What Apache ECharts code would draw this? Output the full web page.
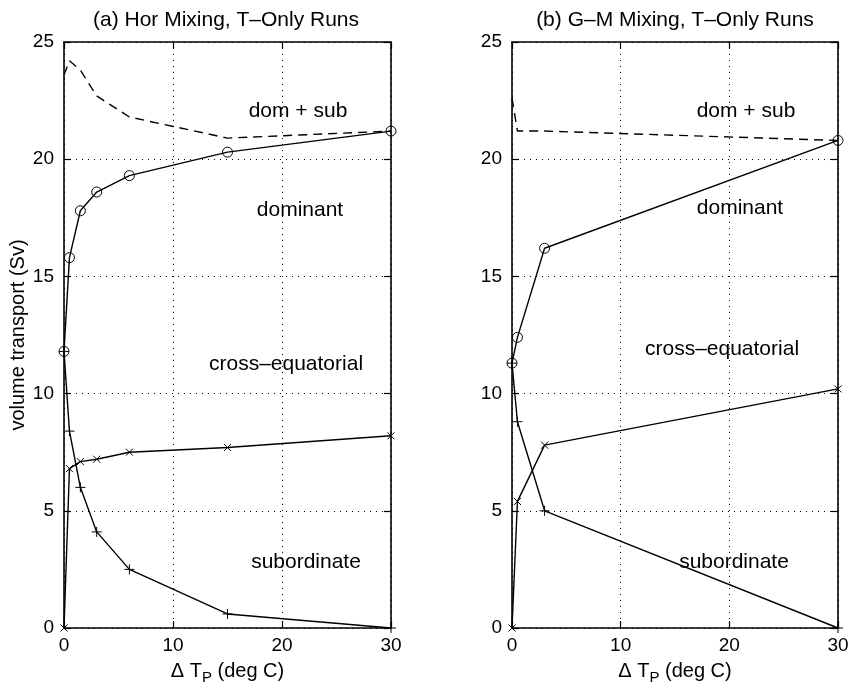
<!DOCTYPE html>
<html>
<head>
<meta charset="utf-8">
<script src="https://cdn.jsdelivr.net/npm/echarts@6/dist/echarts.min.js"></script>
<style>
html,body{margin:0;padding:0;background:#fff;}
#chart{width:852px;height:690px;}
</style>
</head>
<body>
<div id="chart"></div>
<script>
// Panel (a): Hor Mixing
const xA = [0, 0.5, 1.5, 3, 6, 15, 30];
const domA = [11.8, 15.8, 17.8, 18.6, 19.3, 20.3, 21.2];
const subA = [11.8, 8.4, 6.0, 4.1, 2.5, 0.6, 0.0];
const crossA = [0.0, 6.8, 7.1, 7.2, 7.5, 7.7, 8.2];
const sumA = [23.6, 24.2, 23.8, 22.7, 21.8, 20.9, 21.2];
// Panel (b): G-M Mixing
const xB = [0, 0.5, 3, 30];
const domB = [11.3, 12.4, 16.2, 20.8];
const subB = [11.3, 8.8, 5.0, 0.0];
const crossB = [0.0, 5.4, 7.8, 10.2];
const sumB = [22.6, 21.2, 21.2, 20.8];

const xTicks = [0, 10, 20, 30];
const yTicks = [0, 5, 10, 15, 20, 25];
const titles = ['(a) Hor Mixing, T\u2013Only Runs', '(b) G\u2013M Mixing, T\u2013Only Runs'];
const curveLabels = ['dom + sub', 'dominant', 'cross\u2013equatorial', 'subordinate'];

const FONT = 'Liberation Sans, Arial, Helvetica, sans-serif';
const pairs = (xs, ys) => xs.map((x, i) => [x, ys[i]]);

const chart = echarts.init(document.getElementById('chart'));

const grids = [
  {left: 64, top: 42, width: 327, height: 592},
  {left: 512, top: 42, width: 326, height: 592}
];

function xAxisPair(gi) {
  const base = {
    type: 'value', gridIndex: gi, min: xTicks[0], max: xTicks[xTicks.length - 1], interval: 10,
    axisLine: {show: true, onZero: false, lineStyle: {color: '#000', width: 1.6}},
    axisTick: {show: true, inside: true, length: 7, lineStyle: {color: '#000', width: 1.2}},
  };
  return [
    Object.assign({}, base, {
      position: 'bottom',
      axisLabel: {show: true, color: '#000', fontSize: 19, fontFamily: FONT, margin: 8},
      splitLine: {show: true, lineStyle: {color: '#000', type: [1, 5], width: 1}},
      name: '{d|\u0394 T}{s|P}{d| (deg C)}',
      nameLocation: 'middle', nameGap: 30,
      nameTextStyle: {
        rich: {
          d: {fontSize: 20, fontFamily: FONT, color: '#000'},
          s: {fontSize: 15, fontFamily: FONT, color: '#000', verticalAlign: 'bottom', padding: [12, 0, 0, 0]}
        }
      }
    }),
    Object.assign({}, base, {
      position: 'top',
      axisLabel: {show: false},
      splitLine: {show: false}
    })
  ];
}

function yAxisPair(gi, withName) {
  const base = {
    type: 'value', gridIndex: gi, min: yTicks[0], max: yTicks[yTicks.length - 1], interval: 5,
    axisLine: {show: true, onZero: false, lineStyle: {color: '#000', width: 1.6}},
    axisTick: {show: true, inside: true, length: 7, lineStyle: {color: '#000', width: 1.2}},
  };
  const left = Object.assign({}, base, {
    position: 'left',
    axisLabel: {show: true, color: '#000', fontSize: 19, fontFamily: FONT, margin: 10},
    splitLine: {show: true, lineStyle: {color: '#000', type: [1, 5], width: 1}}
  });
  if (withName) {
    Object.assign(left, {
      name: 'volume transport (Sv)', nameLocation: 'middle', nameGap: 25,
      nameTextStyle: {fontSize: 20, fontFamily: FONT, color: '#000'}
    });
  }
  return [left, Object.assign({}, base, {position: 'right', axisLabel: {show: false}, splitLine: {show: false}})];
}

const plusPath = 'path://M0,5L10,5M5,0L5,10';
const crossPath = 'path://M0,0L10,10M10,0L0,10';

function panelSeries(xi, yi, xs, dom, sub, cross, sum) {
  const common = {type: 'line', xAxisIndex: xi, yAxisIndex: yi, animation: false, z: 5,
    lineStyle: {color: '#000', width: 1.4}};
  return [
    Object.assign({}, common, {
      name: 'dom+sub', data: pairs(xs, sum), showSymbol: false, symbol: 'none',
      lineStyle: {color: '#000', width: 1.4, type: [9, 6]}
    }),
    Object.assign({}, common, {
      name: 'dominant', data: pairs(xs, dom), symbol: 'circle', symbolSize: 10,
      itemStyle: {color: 'none', borderColor: '#000', borderWidth: 1}
    }),
    Object.assign({}, common, {
      name: 'subordinate', data: pairs(xs, sub), symbol: plusPath, symbolSize: 10,
      itemStyle: {color: 'none', borderColor: '#000', borderWidth: 1}
    }),
    Object.assign({}, common, {
      name: 'cross', data: pairs(xs, cross), symbol: crossPath, symbolSize: 7,
      itemStyle: {color: 'none', borderColor: '#000', borderWidth: 1}
    })
  ];
}

const textStyle = {fontSize: 21, fontFamily: FONT, fill: '#000'};
function label(text, cx, cy) {
  return {type: 'text', x: cx, y: cy, style: Object.assign({text: text, textAlign: 'center', textVerticalAlign: 'middle'}, textStyle)};
}

const option = {
  backgroundColor: '#fff',
  animation: false,
  grid: grids,
  xAxis: [...xAxisPair(0), ...xAxisPair(1)],
  yAxis: [...yAxisPair(0, true), ...yAxisPair(1, false)],
  series: [
    ...panelSeries(0, 0, xA, domA, subA, crossA, sumA),
    ...panelSeries(2, 2, xB, domB, subB, crossB, sumB)
  ],
  graphic: [
    {type: 'text', x: 226, y: 20, style: Object.assign({text: titles[0], textAlign: 'center', textVerticalAlign: 'middle'}, textStyle)},
    {type: 'text', x: 675, y: 20, style: Object.assign({text: titles[1], textAlign: 'center', textVerticalAlign: 'middle'}, textStyle)},
    label(curveLabels[0], 298, 111),
    label(curveLabels[1], 300, 210),
    label(curveLabels[2], 286, 364),
    label(curveLabels[3], 306, 562),
    label(curveLabels[0], 746, 111),
    label(curveLabels[1], 740, 208),
    label(curveLabels[2], 722, 349),
    label(curveLabels[3], 734, 562)
  ]
};
chart.setOption(option);
</script>
</body>
</html>
